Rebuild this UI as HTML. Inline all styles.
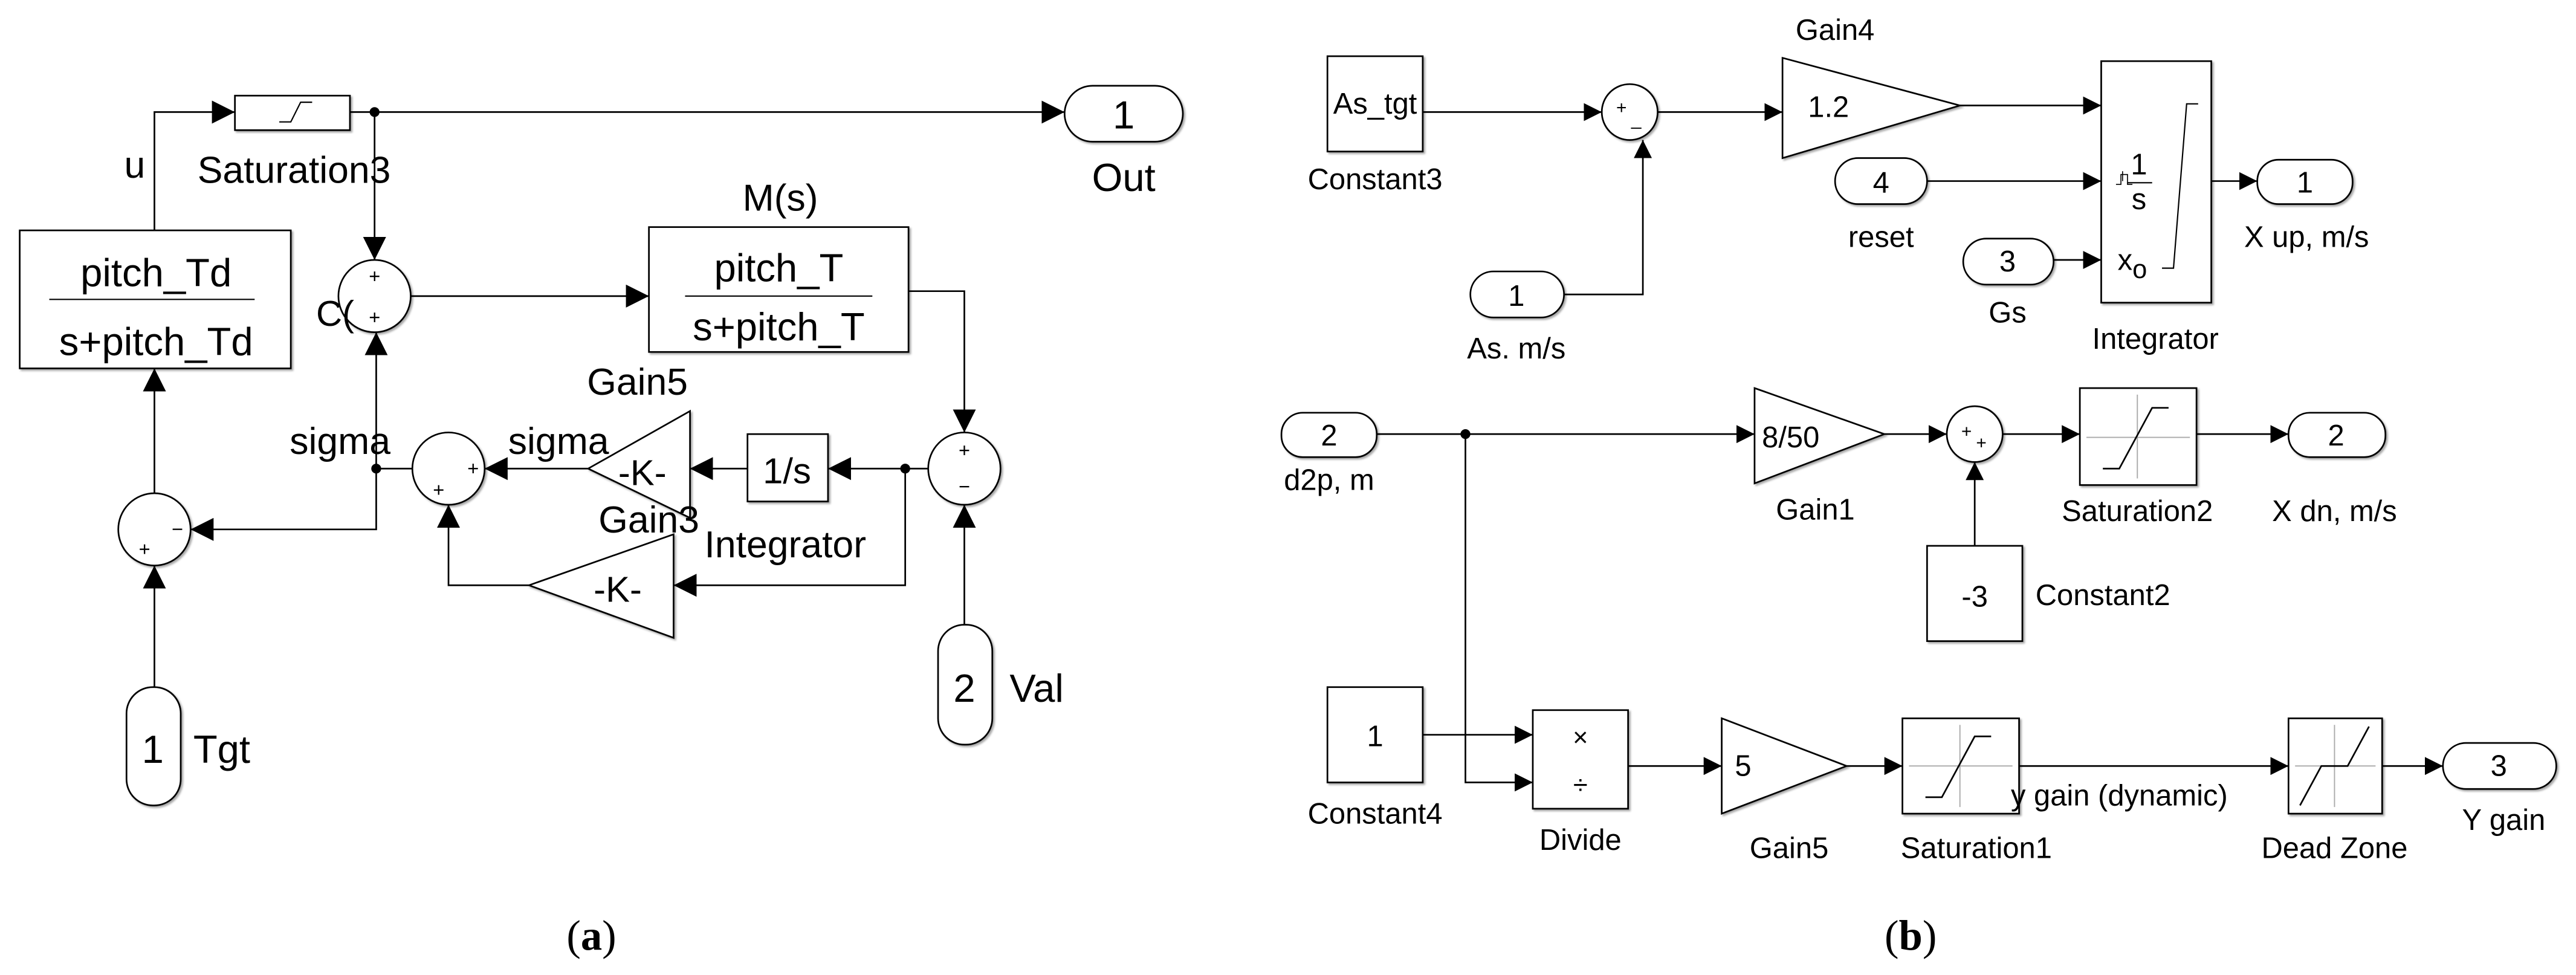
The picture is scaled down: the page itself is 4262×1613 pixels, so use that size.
<!DOCTYPE html>
<html><head><meta charset="utf-8"><style>html,body{margin:0;padding:0;background:#fff}svg{display:block}</style></head>
<body>
<svg width="4262" height="1613" viewBox="0 0 1568 593" xmlns="http://www.w3.org/2000/svg" font-family="Liberation Sans, Arial, sans-serif">
<defs>
<marker id="a" markerUnits="userSpaceOnUse" markerWidth="14" markerHeight="14" viewBox="0 0 14 14" refX="14" refY="7" orient="auto"><path d="M0,0L14,7L0,14z" fill="#000"/></marker>
<marker id="b" markerUnits="userSpaceOnUse" markerWidth="11" markerHeight="11" viewBox="0 0 11 11" refX="11" refY="5.5" orient="auto"><path d="M0,0L11,5.5L0,11z" fill="#000"/></marker>
<filter id="sh"><feDropShadow dx="1" dy="1" stdDeviation="0.6" flood-opacity="0.35"/></filter>
</defs>
<g fill="none" stroke="#000" stroke-width="1">
<!-- (a) -->
<rect x="143" y="58" width="70" height="21" fill="#fff" filter="url(#sh)"/>
<path d="M170,74 h7 l6,-12 h7" stroke-width="0.8"/>
<rect x="12" y="140" width="165" height="84" fill="#fff" filter="url(#sh)"/>
<line x1="30" y1="182" x2="155" y2="182" stroke-width="0.8"/>
<rect x="395" y="138" width="158" height="76" fill="#fff" filter="url(#sh)"/>
<line x1="417" y1="180" x2="531" y2="180" stroke-width="0.8"/>
<circle cx="228" cy="180" r="22" fill="#fff" filter="url(#sh)"/>
<circle cx="587" cy="285" r="22" fill="#fff" filter="url(#sh)"/>
<circle cx="273" cy="285" r="22" fill="#fff" filter="url(#sh)"/>
<circle cx="94" cy="322" r="22" fill="#fff" filter="url(#sh)"/>
<rect x="455" y="264" width="49" height="41" fill="#fff" filter="url(#sh)"/>
<path d="M420,250 L420,315 L358,285 Z" fill="#fff" filter="url(#sh)"/>
<path d="M410,325 L410,388 L322,356 Z" fill="#fff" filter="url(#sh)"/>
<rect x="648" y="52" width="72" height="34" rx="17" fill="#fff" filter="url(#sh)"/>
<rect x="571" y="380" width="33" height="73" rx="16" fill="#fff" filter="url(#sh)"/>
<rect x="77" y="418" width="33" height="72" rx="16" fill="#fff" filter="url(#sh)"/>
<!-- lines a -->
<path d="M94,140 V68 H143" marker-end="url(#a)"/>
<path d="M213,68 H648" marker-end="url(#a)"/>
<path d="M228,68 V158" marker-end="url(#a)"/>
<path d="M250,180 H395" marker-end="url(#a)"/>
<path d="M553,177 H587 V263" marker-end="url(#a)"/>
<path d="M587,380 V307" marker-end="url(#a)"/>
<path d="M565,285 H504" marker-end="url(#a)"/>
<path d="M455,285 H420" marker-end="url(#a)"/>
<path d="M358,285 H295" marker-end="url(#a)"/>
<path d="M551,285 V356 H410" marker-end="url(#a)"/>
<path d="M322,356 H273 V307" marker-end="url(#a)"/>
<path d="M251,285 H229 V202" marker-end="url(#a)"/>
<path d="M229,285 V322 H116" marker-end="url(#a)"/>
<path d="M94,300 V224" marker-end="url(#a)"/>
<path d="M94,418 V344" marker-end="url(#a)"/>
</g>
<g fill="#000">
<circle cx="228" cy="68" r="3"/><circle cx="551" cy="285" r="3"/><circle cx="229" cy="285" r="3"/>
</g>
<g font-size="23" fill="#000" text-anchor="middle">
<text x="82" y="108">u</text>
<text x="179" y="111">Saturation3</text>
<text x="684" y="116" font-size="24">Out</text>
<text x="684" y="78" font-size="24">1</text>
<text x="95" y="174" font-size="24">pitch_Td</text>
<text x="95" y="216" font-size="24">s+pitch_Td</text>
<text x="475" y="128" font-size="23">M(s)</text>
<text x="474" y="171" font-size="24">pitch_T</text>
<text x="474" y="207" font-size="24">s+pitch_T</text>
<text x="204" y="198" font-size="22">C(</text>
<text x="388" y="240">Gain5</text>
<text x="207" y="276">sigma</text>
<text x="340" y="276">sigma</text>
<text x="395" y="324">Gain3</text>
<text x="478" y="339">Integrator</text>
<text x="391" y="295" font-size="22">-K-</text>
<text x="376" y="366" font-size="22">-K-</text>
<text x="479" y="294" font-size="22">1/s</text>
<text x="587" y="427" font-size="24">2</text>
<text x="631" y="427" font-size="24">Val</text>
<text x="93" y="464" font-size="24">1</text>
<text x="135" y="464" font-size="24">Tgt</text>
<g font-size="12"><text x="228" y="172">+</text><text x="228" y="197">+</text>
<text x="587" y="278">+</text><text x="587" y="300">−</text>
<text x="288" y="289">+</text><text x="267" y="302">+</text>
<text x="108" y="326">−</text><text x="88" y="338">+</text></g>
<text x="360" y="578" font-family="Liberation Serif, serif" font-size="26">(<tspan font-weight="bold">a</tspan>)</text>
</g>

<!-- (b) -->
<g fill="none" stroke="#000" stroke-width="1">
<rect x="808" y="34" width="58" height="58" fill="#fff" filter="url(#sh)"/>
<circle cx="992" cy="68" r="17" fill="#fff" filter="url(#sh)"/>
<path d="M1085,35 L1085,96 L1193,64 Z" fill="#fff" filter="url(#sh)"/>
<rect x="1279" y="37" width="67" height="147" fill="#fff" filter="url(#sh)"/>
<path d="M1316,163 h7 L1331,63 h7" stroke-width="0.8"/>
<path d="M1288,112 h3 v-6 h4 v6 h3 M1292,104 v6" stroke-width="0.6"/>
<rect x="1117" y="96" width="56" height="28" rx="14" fill="#fff" filter="url(#sh)"/>
<rect x="1195" y="145" width="55" height="28" rx="14" fill="#fff" filter="url(#sh)"/>
<rect x="895" y="165" width="57" height="28" rx="14" fill="#fff" filter="url(#sh)"/>
<rect x="1374" y="97" width="58" height="27" rx="13" fill="#fff" filter="url(#sh)"/>
<path d="M866,68 H975" marker-end="url(#b)"/>
<path d="M1009,68 H1085" marker-end="url(#b)"/>
<path d="M1193,64 H1279" marker-end="url(#b)"/>
<path d="M1173,110 H1279" marker-end="url(#b)"/>
<path d="M1250,158 H1279" marker-end="url(#b)"/>
<path d="M952,179 H1000 V85" marker-end="url(#b)"/>
<path d="M1346,110 H1374" marker-end="url(#b)"/>

<rect x="780" y="251" width="58" height="27" rx="13" fill="#fff" filter="url(#sh)"/>
<path d="M1068,236 L1068,294 L1147,264 Z" fill="#fff" filter="url(#sh)"/>
<circle cx="1202" cy="264" r="17" fill="#fff" filter="url(#sh)"/>
<rect x="1173" y="332" width="58" height="58" fill="#fff" filter="url(#sh)"/>
<rect x="1266" y="236" width="71" height="59" fill="#fff" filter="url(#sh)"/>
<rect x="1393" y="251" width="59" height="27" rx="13" fill="#fff" filter="url(#sh)"/>
<rect x="808" y="418" width="58" height="58" fill="#fff" filter="url(#sh)"/>
<rect x="933" y="432" width="58" height="60" fill="#fff" filter="url(#sh)"/>
<path d="M1048,437 L1048,495 L1124,466 Z" fill="#fff" filter="url(#sh)"/>
<rect x="1158" y="437" width="71" height="58" fill="#fff" filter="url(#sh)"/>
<rect x="1393" y="437" width="57" height="58" fill="#fff" filter="url(#sh)"/>
<rect x="1487" y="452" width="69" height="28" rx="14" fill="#fff" filter="url(#sh)"/>
<path d="M838,264 H1068" marker-end="url(#b)"/>
<path d="M1147,264 H1185" marker-end="url(#b)"/>
<path d="M1202,332 V281" marker-end="url(#b)"/>
<path d="M1219,264 H1266" marker-end="url(#b)"/>
<path d="M1337,264 H1393" marker-end="url(#b)"/>
<path d="M892,264 V476 H933" marker-end="url(#b)"/>
<path d="M866,447 H933" marker-end="url(#b)"/>
<path d="M991,466 H1048" marker-end="url(#b)"/>
<path d="M1124,466 H1158" marker-end="url(#b)"/>
<path d="M1229,466 H1393" marker-end="url(#b)"/>
<path d="M1450,466 H1487" marker-end="url(#b)"/>
<!-- icons -->
<g stroke="#aaa" stroke-width="0.7"><path d="M1301,240 V291 M1270,266 H1333"/><path d="M1193,441 V491 M1162,466 H1225"/><path d="M1421,441 V491 M1397,466 H1446"/></g>
<path d="M1280,285 h10 l20,-37 h10"/>
<path d="M1172,485 h10 l20,-37 h10"/>
<path d="M1400,490 l13,-24 h16 l13,-24"/>
</g>
<g fill="#000"><circle cx="892" cy="264" r="3"/></g>
<g font-size="18" fill="#000" text-anchor="middle">
<text x="837" y="69">As_tgt</text>
<text x="837" y="115">Constant3</text>
<text x="1117" y="24">Gain4</text>
<text x="1113" y="71">1.2</text>
<text x="1145" y="117">4</text>
<text x="1145" y="150">reset</text>
<text x="1222" y="165">3</text>
<text x="1222" y="196">Gs</text>
<text x="923" y="186">1</text>
<text x="923" y="218">As. m/s</text>
<text x="1403" y="117">1</text>
<text x="1404" y="150">X up, m/s</text>
<text x="1312" y="212">Integrator</text>
<text x="1302" y="106">1</text>
<text x="1302" y="127">s</text>
<line x1="1295" y1="111" x2="1310" y2="111" stroke="#000" stroke-width="0.8"/>
<text x="1289" y="164" text-anchor="start">x</text><text x="1298" y="169" text-anchor="start" font-size="16">o</text>
<text x="809" y="271">2</text>
<text x="809" y="298">d2p, m</text>
<text x="1090" y="272">8/50</text>
<text x="1105" y="316">Gain1</text>
<text x="1202" y="369">-3</text>
<text x="1280" y="368">Constant2</text>
<text x="1301" y="317">Saturation2</text>
<text x="1422" y="271">2</text>
<text x="1421" y="317">X dn, m/s</text>
<text x="837" y="454">1</text>
<text x="837" y="501">Constant4</text>
<text x="962" y="517">Divide</text>
<text x="962" y="454" font-size="16">×</text>
<text x="962" y="483" font-size="16">÷</text>
<text x="1061" y="472">5</text>
<text x="1089" y="522">Gain5</text>
<text x="1203" y="522">Saturation1</text>
<text x="1290" y="490">y gain (dynamic)</text>
<text x="1421" y="522">Dead Zone</text>
<text x="1521" y="472">3</text>
<text x="1524" y="505">Y gain</text>
<g font-size="11"><text x="987" y="69">+</text><text x="996" y="76">_</text><text x="1197" y="266">+</text><text x="1206" y="273">+</text></g>
<text x="1163" y="578" font-family="Liberation Serif, serif" font-size="26">(<tspan font-weight="bold">b</tspan>)</text>
</g>
</svg>
</body></html>
